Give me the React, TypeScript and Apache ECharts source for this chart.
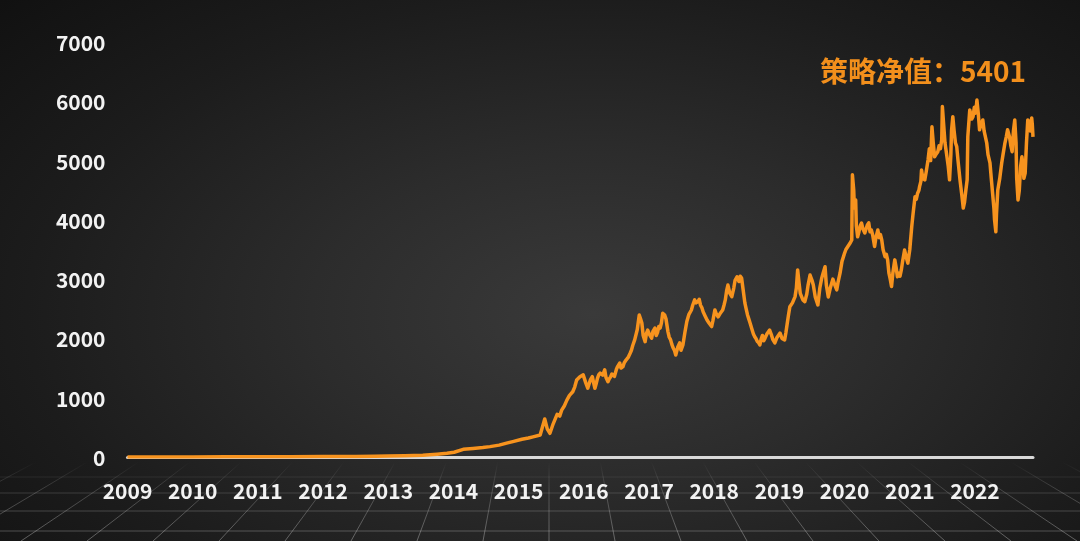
import React, { useEffect, useRef } from "react";
import * as echarts from "echarts";

// ---- data: [decimal year, strategy NAV] ----
const nav2009to2014: [number, number][] = [
  [2009.0, 1], [2009.5, 1], [2010.0, 2], [2010.5, 3], [2011.0, 4], [2011.5, 5], [2012.0, 7], [2012.5, 10],
  [2012.8, 14], [2013.0, 18], [2013.25, 22], [2013.53, 30], [2013.75, 48], [2013.9, 62], [2014.01, 80],
  [2014.15, 130], [2014.3, 145], [2014.45, 160], [2014.56, 175], [2014.7, 200], [2014.8, 230], [2014.91, 260],
];

const nav2015to2016: [number, number][] = [
  [2015.05, 300], [2015.15, 320], [2015.22, 340], [2015.33, 370], [2015.4, 640], [2015.44, 470], [2015.48, 400],
  [2015.53, 560], [2015.59, 720], [2015.63, 690], [2015.66, 790], [2015.7, 860], [2015.74, 960], [2015.78, 1040],
  [2015.83, 1100], [2015.86, 1180], [2015.89, 1300], [2015.94, 1355], [2015.99, 1385],
  [2016.03, 1250], [2016.06, 1160], [2016.08, 1230], [2016.1, 1300], [2016.13, 1355], [2016.15, 1250],
  [2016.17, 1160], [2016.19, 1240], [2016.21, 1330], [2016.23, 1390], [2016.25, 1415], [2016.29, 1380],
  [2016.32, 1470], [2016.34, 1340], [2016.37, 1270], [2016.39, 1320], [2016.41, 1350], [2016.43, 1400],
  [2016.45, 1385], [2016.47, 1360], [2016.5, 1480], [2016.52, 1530], [2016.55, 1585], [2016.57, 1500],
  [2016.6, 1525], [2016.62, 1590], [2016.65, 1640], [2016.68, 1680], [2016.71, 1750], [2016.73, 1800],
  [2016.75, 1880], [2016.78, 1975], [2016.82, 2150], [2016.85, 2395], [2016.87, 2330], [2016.89, 2260],
  [2016.91, 2050], [2016.94, 1945], [2016.96, 2080], [2016.98, 2140],
];

const nav2017to2018: [number, number][] = [
  [2017.01, 2060], [2017.04, 2005], [2017.06, 2120], [2017.09, 2175], [2017.11, 2050], [2017.13, 2100],
  [2017.15, 2200], [2017.17, 2175], [2017.19, 2260], [2017.21, 2425], [2017.24, 2395], [2017.26, 2330],
  [2017.29, 2115], [2017.31, 2020], [2017.33, 1980], [2017.35, 1900], [2017.37, 1840], [2017.39, 1800],
  [2017.41, 1720], [2017.44, 1850], [2017.47, 1925], [2017.49, 1800], [2017.52, 1890], [2017.55, 2100],
  [2017.58, 2285], [2017.61, 2400], [2017.65, 2480], [2017.67, 2560], [2017.7, 2650], [2017.72, 2600],
  [2017.75, 2620], [2017.77, 2660], [2017.79, 2560], [2017.81, 2520], [2017.83, 2450], [2017.86, 2380],
  [2017.89, 2310], [2017.92, 2260], [2017.96, 2200], [2017.98, 2300],
  [2018.01, 2480], [2018.03, 2420], [2018.06, 2365], [2018.09, 2420], [2018.13, 2480], [2018.15, 2560],
  [2018.17, 2650], [2018.19, 2800], [2018.21, 2900], [2018.24, 2760], [2018.27, 2705], [2018.3, 2850],
  [2018.32, 2980], [2018.35, 3040], [2018.38, 2960], [2018.4, 3050], [2018.42, 3020], [2018.44, 2850],
  [2018.47, 2600], [2018.49, 2500], [2018.51, 2400], [2018.53, 2330], [2018.55, 2260], [2018.58, 2150],
  [2018.6, 2080], [2018.62, 2030], [2018.64, 2000], [2018.66, 1950], [2018.68, 1930], [2018.7, 1890],
  [2018.72, 1990], [2018.74, 2050], [2018.76, 1960], [2018.78, 2005], [2018.81, 2080], [2018.85, 2140],
  [2018.88, 2050], [2018.9, 1980], [2018.93, 1925], [2018.96, 2010],
];

const nav2019to2020: [number, number][] = [
  [2019.01, 2090], [2019.04, 2000], [2019.08, 1975], [2019.1, 2100], [2019.12, 2250], [2019.14, 2400],
  [2019.16, 2535], [2019.2, 2600], [2019.24, 2705], [2019.26, 2850], [2019.28, 3155], [2019.3, 2950],
  [2019.32, 2760], [2019.34, 2705], [2019.36, 2650], [2019.39, 2620], [2019.42, 2750], [2019.44, 2900],
  [2019.47, 3070], [2019.5, 2980], [2019.52, 2900], [2019.55, 2700], [2019.59, 2565], [2019.62, 2850],
  [2019.65, 3020], [2019.67, 3100], [2019.7, 3210], [2019.72, 2900], [2019.75, 2700], [2019.78, 2850],
  [2019.82, 3000], [2019.85, 2900], [2019.88, 2820], [2019.9, 2950], [2019.93, 3100], [2019.96, 3300],
  [2020.0, 3440], [2020.02, 3500], [2020.05, 3550], [2020.08, 3600], [2020.11, 3660], [2020.12, 4760],
  [2020.14, 4500], [2020.15, 4200], [2020.17, 4335], [2020.18, 3900], [2020.2, 3715], [2020.22, 3800],
  [2020.24, 3900], [2020.26, 3945], [2020.28, 3850], [2020.31, 3780], [2020.33, 3850], [2020.35, 3915],
  [2020.37, 3950], [2020.39, 3800], [2020.41, 3830], [2020.43, 3750], [2020.46, 3550], [2020.48, 3700],
  [2020.51, 3830], [2020.53, 3700], [2020.55, 3750], [2020.57, 3660], [2020.59, 3500], [2020.62, 3380],
  [2020.64, 3420], [2020.66, 3325], [2020.68, 3100], [2020.7, 3000], [2020.72, 2875], [2020.74, 3100],
  [2020.77, 3325], [2020.79, 3200], [2020.81, 3040], [2020.83, 3100], [2020.85, 3050], [2020.87, 3155],
  [2020.89, 3300], [2020.92, 3490], [2020.95, 3350], [2020.97, 3270],
];

const nav2021to2022: [number, number][] = [
  [2021.0, 3500], [2021.03, 3885], [2021.05, 4100], [2021.08, 4390], [2021.1, 4350], [2021.12, 4450],
  [2021.14, 4500], [2021.15, 4560], [2021.17, 4650], [2021.18, 4840], [2021.2, 4700], [2021.23, 4675],
  [2021.25, 4800], [2021.28, 5010], [2021.3, 5200], [2021.32, 5000], [2021.34, 5570], [2021.36, 5300],
  [2021.38, 5065], [2021.4, 5100], [2021.43, 5150], [2021.45, 5250], [2021.47, 5200], [2021.49, 5350],
  [2021.5, 5910], [2021.52, 5600], [2021.54, 5300], [2021.57, 5065], [2021.59, 4900], [2021.61, 4675],
  [2021.63, 5100], [2021.64, 5500], [2021.66, 5740], [2021.68, 5500], [2021.7, 5300], [2021.72, 5235],
  [2021.74, 5000], [2021.77, 4675], [2021.8, 4400], [2021.82, 4200], [2021.84, 4300], [2021.86, 4500],
  [2021.88, 4675], [2021.89, 5400], [2021.92, 5855], [2021.95, 5700], [2021.97, 5740], [2021.99, 5900],
  [2022.01, 5800], [2022.03, 6020], [2022.05, 5800], [2022.07, 5520], [2022.09, 5600], [2022.12, 5685],
  [2022.14, 5500], [2022.16, 5400], [2022.18, 5300], [2022.2, 5100], [2022.23, 4960], [2022.25, 4700],
  [2022.27, 4450], [2022.29, 4200], [2022.3, 4000], [2022.32, 3800], [2022.33, 4100], [2022.35, 4505],
  [2022.38, 4700], [2022.41, 4960], [2022.43, 5100], [2022.46, 5300], [2022.48, 5400], [2022.5, 5520],
  [2022.53, 5400], [2022.55, 5250], [2022.57, 5150], [2022.59, 5500], [2022.61, 5685], [2022.63, 5300],
  [2022.64, 4700], [2022.66, 4335], [2022.68, 4500], [2022.7, 4900], [2022.72, 5065], [2022.74, 4900],
  [2022.75, 4700], [2022.77, 4790], [2022.79, 5300], [2022.81, 5685], [2022.83, 5650], [2022.85, 5500],
  [2022.87, 5720], [2022.88, 5600], [2022.89, 5401],
];

const yearTicks: number[] = [2009, 2010, 2011, 2012, 2013, 2014, 2015, 2016, 2017, 2018, 2019, 2020, 2021, 2022];
const xMin = 2009;
const xMax = 2022.89;
const yMin = 0;
const yMax = 7000;
const yStep = 1000;
const titleText = "策略净值：5401";

const FONT = "'Noto Sans CJK SC', 'Noto Sans', sans-serif";

function buildFloor() {
  // decorative perspective floor grid
  const vx = 549;
  const vy = 186;
  const bottom = 541;
  const top = 462;
  const els: any[] = [];
  const stroke = new echarts.graphic.LinearGradient(
    0, top, 0, bottom,
    [
      { offset: 0, color: "rgba(190,190,190,0)" },
      { offset: 0.35, color: "rgba(190,190,190,0.24)" },
      { offset: 1, color: "rgba(200,200,200,0.42)" },
    ],
    true
  );
  for (let k = -10; k <= 10; k++) {
    const xb = vx + 66 * k;
    const xt = vx + 66 * k * ((top - vy) / (bottom - vy));
    els.push({
      type: "line",
      z: -10,
      silent: true,
      shape: { x1: xt, y1: top, x2: xb, y2: bottom },
      style: { stroke, lineWidth: 1 },
    });
  }
  const hs = [
    { y: 477, a: 0.1 },
    { y: 493, a: 0.2 },
    { y: 511, a: 0.26 },
    { y: 531, a: 0.32 },
  ];
  hs.forEach((h) => {
    els.push({
      type: "line",
      z: -10,
      silent: true,
      shape: { x1: 0, y1: h.y, x2: 1080, y2: h.y },
      style: { stroke: `rgba(200,200,200,${h.a})`, lineWidth: 1 },
    });
  });
  return els;
}

export default function App() {
  const ref = useRef<HTMLDivElement>(null);

  useEffect(() => {
    document.body.style.margin = "0";
    if (!ref.current) return;
    const chart = echarts.init(ref.current, undefined, { renderer: "svg" });
    const seriesData = [
      ...nav2009to2014,
      ...nav2015to2016,
      ...nav2017to2018,
      ...nav2019to2020,
      ...nav2021to2022,
    ];
    chart.setOption({
      animation: false,
      backgroundColor: "transparent",
      title: {
        text: titleText,
        right: 49,
        top: 51,
        textStyle: {
          color: "#f28f1c",
          fontSize: 28,
          fontWeight: "bold",
          fontFamily: FONT,
        },
      },
      grid: { left: 127.5, right: 47, top: 42, bottom: 84, containLabel: false },
      xAxis: {
        type: "value",
        min: xMin,
        max: xMax,
        interval: 1,
        axisLine: { show: true, lineStyle: { color: "#d9d9d9", width: 3 } },
        axisTick: { show: false },
        splitLine: { show: false },
        axisLabel: {
          color: "#f2f2f2",
          fontSize: 21,
          fontWeight: "bold",
          fontFamily: FONT,
          margin: 22,
          showMaxLabel: false,
          formatter: (v: number) =>
            yearTicks.includes(Math.round(v)) && Math.abs(v - Math.round(v)) < 1e-6 ? String(Math.round(v)) : "",
        },
      },
      yAxis: {
        type: "value",
        min: yMin,
        max: yMax,
        interval: yStep,
        axisLine: { show: false },
        axisTick: { show: false },
        splitLine: { show: false },
        axisLabel: {
          color: "#f2f2f2",
          fontSize: 21,
          fontWeight: "bold",
          fontFamily: FONT,
          margin: 22,
          formatter: (v: number) => String(v),
        },
      },
      graphic: buildFloor(),
      series: [
        {
          type: "line",
          data: seriesData,
          showSymbol: false,
          symbol: "none",
          lineStyle: { color: "#f7931e", width: 3.5, join: "round" },
          z: 5,
        },
      ],
    });
    return () => chart.dispose();
  }, []);

  return (
    <div
      ref={ref}
      style={{
        position: "fixed",
        left: 0,
        top: 0,
        width: 1080,
        height: 541,
        background:
          "radial-gradient(ellipse 75% 85% at 55% 58%, #3a3a3a 0%, #2c2c2c 35%, #1c1c1c 70%, #111111 100%)",
      }}
    />
  );
}
